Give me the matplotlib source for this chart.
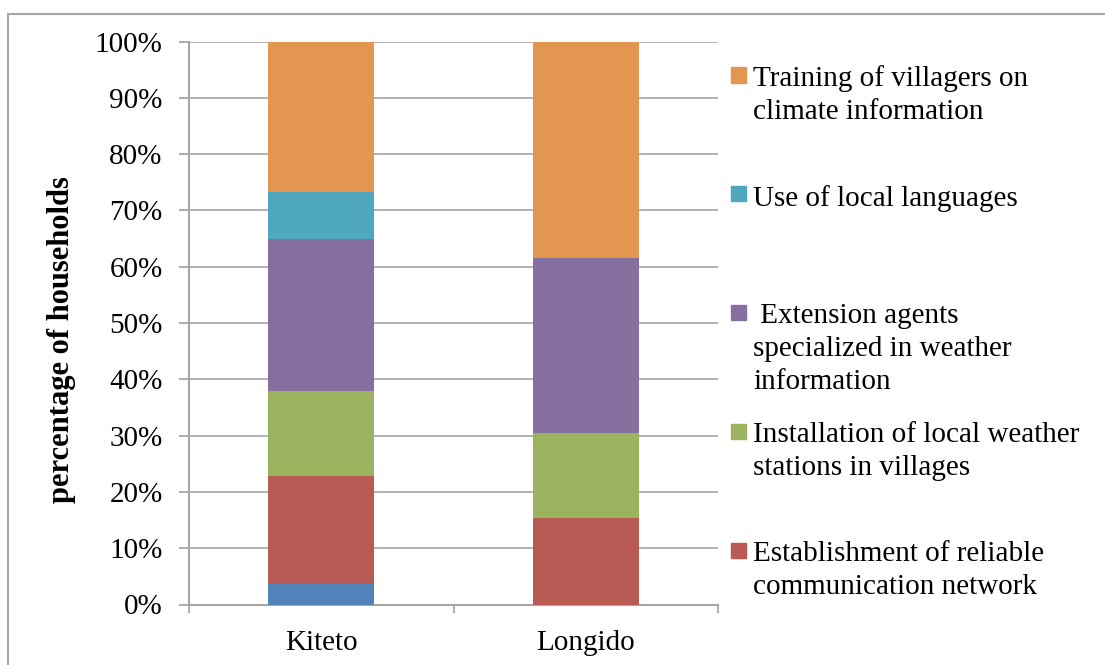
import matplotlib
matplotlib.use('Agg')
import matplotlib.pyplot as plt
from matplotlib.patches import Rectangle

categories = ['Kiteto', 'Longido']

# stacked from bottom to top
unnamed = [3.9, 0.0]
communication = [19.0, 15.3]
stations = [15.1, 15.1]
extension = [27.0, 31.2]
languages = [8.2, 0.0]
training = [26.8, 38.4]

series = [unnamed, communication, stations, extension, languages, training]
colors = ['#5283B8', '#B95A54', '#9BB25E', '#8570A0', '#4FA8C0', '#E2964F']

# legend entries, top to bottom
legend_labels = ['Training of villagers on\nclimate information',
                 'Use of local languages',
                 ' Extension agents\nspecialized in weather\ninformation',
                 'Installation of local weather\nstations in villages',
                 'Establishment of reliable\ncommunication network']
legend_colors = ['#E2964F', '#4FA8C0', '#8570A0', '#9BB25E', '#B95A54']

yticks = [0, 10, 20, 30, 40, 50, 60, 70, 80, 90, 100]
ytick_labels = ['%d%%' % v for v in yticks]

plt.rcParams['font.family'] = ['Liberation Serif', 'DejaVu Serif']

W, H = 1105, 665
fig = plt.figure(figsize=(W / 100, H / 100), dpi=100)
ax = fig.add_axes([189 / W, 1 - 604.5 / H, 529 / W, 563 / H])

x = list(range(len(categories)))
bottom = [0.0] * len(categories)
for vals, c in zip(series, colors):
    ax.bar(x, vals, width=0.4, bottom=bottom, color=c, zorder=3)
    bottom = [b + v for b, v in zip(bottom, vals)]

grid_c = '#A6A6A6'
ax.set_xlim(-0.5, 1.5)
ax.set_ylim(0, 100)
ax.set_yticks(yticks)
ax.set_yticklabels(ytick_labels, fontsize=21)
ax.set_xticks(x)
ax.set_xticklabels(categories, fontsize=21)
ax.set_xticks([-0.5, 0.5, 1.5], minor=True)
ax.tick_params(axis='x', which='major', length=0, pad=18)
ax.tick_params(axis='x', which='minor', length=6, width=1.3, color=grid_c, direction='out')
ax.tick_params(axis='y', length=7, width=1.3, color=grid_c, pad=12)
ax.yaxis.grid(True, color=grid_c, linewidth=1.2, zorder=0)
ax.set_axisbelow(True)
for side in ['top', 'right']:
    ax.spines[side].set_visible(False)
for side in ['left', 'bottom']:
    ax.spines[side].set_color(grid_c)
    ax.spines[side].set_linewidth(1.5)

fig.text(62 / W, 1 - 340 / H, 'percentage of households', rotation=90,
         fontsize=22, fontweight='bold', ha='center', va='center')

# legend drawn Excel-style: equal spacing, patch aligned with first line
line_step = 32
for i, (lab, c) in enumerate(zip(legend_labels, legend_colors)):
    yc = 75 + i * 118.8
    n_lines = lab.count('\n') + 1
    fig.patches.append(Rectangle((731 / W, 1 - (yc + 7.5) / H), 15 / W, 15 / H,
                                 transform=fig.transFigure, color=c))
    # va='baseline' anchors the last line's baseline
    y_base = yc + 12 + (n_lines - 1) * line_step
    fig.text(753 / W, 1 - y_base / H, lab, fontsize=21, ha='left', va='baseline',
             linespacing=1.35)

# outer frame
fig.patches.append(Rectangle((8 / W, -0.05), 1.2, 1 - 14 / H + 0.05,
                             transform=fig.transFigure, fill=False,
                             edgecolor='#A6A6A6', linewidth=1.5))

fig.savefig('out.png', dpi=100)
